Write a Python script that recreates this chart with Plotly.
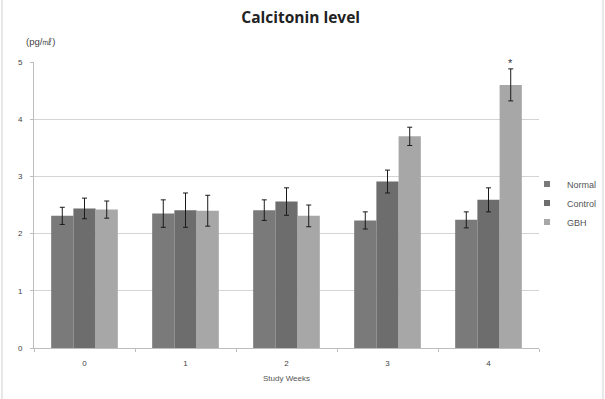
import plotly.graph_objects as go

weeks = ["0", "1", "2", "3", "4"]
normal = [2.31, 2.35, 2.41, 2.23, 2.24]
normal_err = [0.15, 0.24, 0.18, 0.15, 0.14]
control = [2.44, 2.41, 2.56, 2.91, 2.59]
control_err = [0.18, 0.30, 0.24, 0.20, 0.21]
gbh = [2.42, 2.40, 2.31, 3.70, 4.60]
gbh_err = [0.15, 0.27, 0.19, 0.16, 0.28]
y_ticks = [0, 1, 2, 3, 4, 5]

FONT = "Liberation Sans"
PLOT_W = 605 - 34 - 66

fig = go.Figure()
series = [("Normal", normal, normal_err, "#7a7a7a"),
          ("Control", control, control_err, "#6d6d6d"),
          ("GBH", gbh, gbh_err, "#a7a7a7")]
for name, vals, errs, col in series:
    fig.add_trace(go.Bar(
        x=weeks, y=vals, name=name, showlegend=False,
        marker=dict(color=col, line=dict(width=0)),
        error_y=dict(type="data", array=errs, color="#1a1a1a", thickness=1, width=2.5),
    ))
# legend entries with small square swatches
for name, vals, errs, col in series:
    fig.add_trace(go.Scatter(
        x=[None], y=[None], name=name, mode="markers",
        marker=dict(symbol="square", size=6, color=col),
    ))

# significance marker above GBH week 4
fig.add_annotation(x=weeks[4], y=gbh[4] + gbh_err[4] + 0.1, xref="x", yref="y",
                   text="*", showarrow=False, xshift=22,
                   font=dict(size=11, color="#333333", family=FONT))

fig.add_annotation(x=0.014, y=1.07, xref="paper", yref="paper", text="(pg/㎖)",
                   showarrow=False, xanchor="center", yanchor="middle",
                   font=dict(size=9.5, color="#444444", family=FONT))

# chart border (left and right)
fig.add_shape(type="line", xref="paper", yref="paper", x0=(2 - 34) / PLOT_W, x1=(2 - 34) / PLOT_W,
              y0=-0.3, y1=1.3, line=dict(color="#d0d0d0", width=1))
fig.add_shape(type="line", xref="paper", yref="paper", x0=(603 - 34) / PLOT_W, x1=(603 - 34) / PLOT_W,
              y0=-0.3, y1=1.3, line=dict(color="#d0d0d0", width=1))

fig.update_layout(
    width=605, height=399,
    margin=dict(l=34, r=66, t=62, b=51, autoexpand=False),
    paper_bgcolor="white", plot_bgcolor="white",
    barmode="group", bargap=0.34, bargroupgap=0,
    title=dict(text="<b>Calcitonin level</b>", x=0.497, xanchor="center", y=0.957, yanchor="middle",
               font=dict(size=15.5, color="#222222", family="Open Sans")),
    font=dict(family=FONT, size=8, color="#444444"),
    legend=dict(x=(527 - 34) / PLOT_W, y=0.507, xanchor="left", yanchor="middle",
                font=dict(size=9, color="#555555", family=FONT),
                itemwidth=30, bgcolor="rgba(0,0,0,0)"),
    xaxis=dict(title=dict(text="Study Weeks", font=dict(size=8, color="#555555"), standoff=8),
               showline=True, linecolor="#bdbdbd", linewidth=1,
               ticks="outside", ticklen=3, tickcolor="#bdbdbd",
               tickson="boundaries", showgrid=False, ticklabelstandoff=7,
               tickfont=dict(size=8, color="#444444")),
    yaxis=dict(range=[0, 5], tickvals=y_ticks, showline=True, linecolor="#bdbdbd", linewidth=1,
               ticks="outside", ticklen=3, tickcolor="#bdbdbd", ticklabelstandoff=6,
               showgrid=True, gridcolor="#d4d4d4", gridwidth=1, zeroline=False,
               tickfont=dict(size=8, color="#444444")),
)

fig.write_html("out.html")
